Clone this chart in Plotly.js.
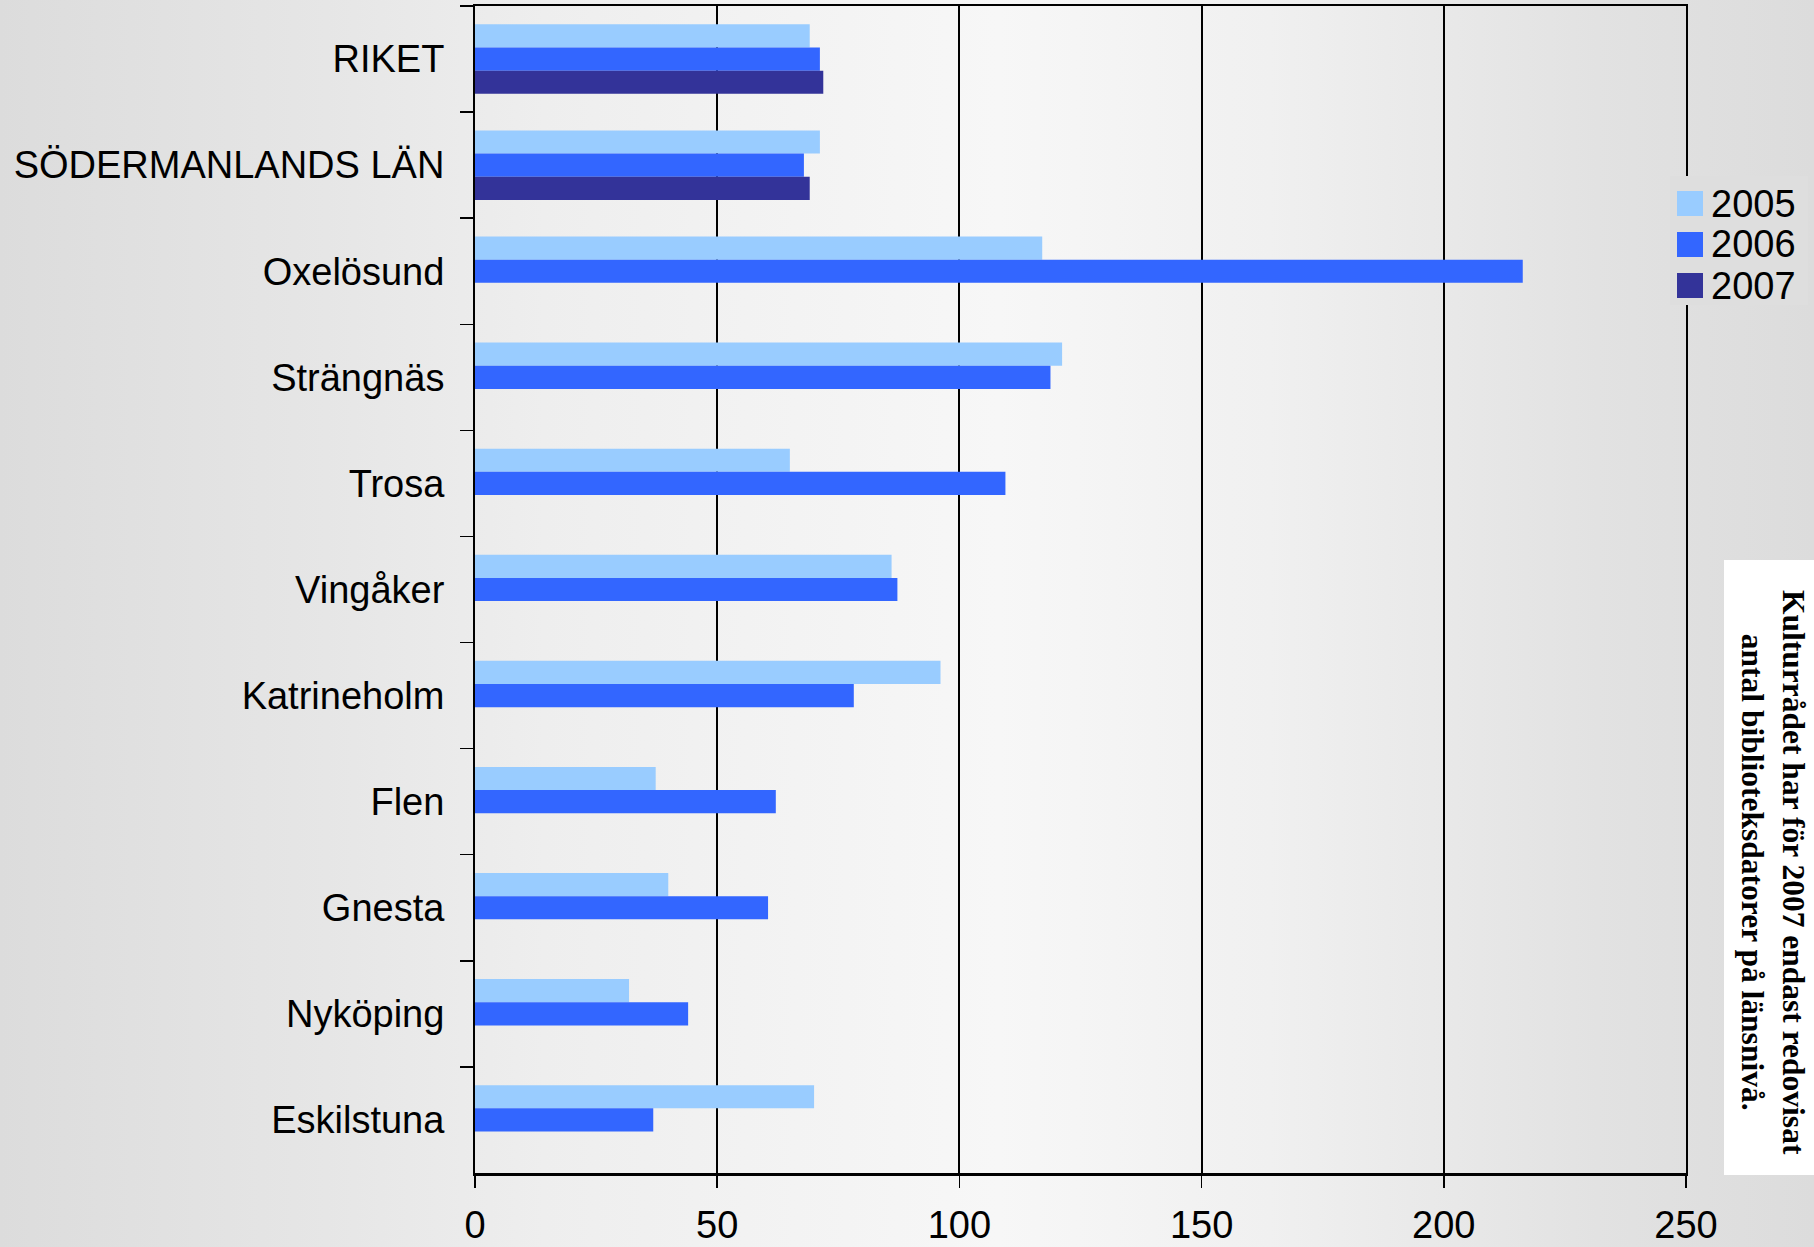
<!DOCTYPE html>
<html>
<head>
<meta charset="utf-8">
<script src="https://cdn.plot.ly/plotly-3.0.1.min.js"></script>
<style>
  html, body { margin: 0; padding: 0; }
  body {
    width: 1814px; height: 1247px; overflow: hidden;
    background: linear-gradient(to right, #dcdcdc 0%, #e6e6e6 18%, #eeeeee 30%, #f7f7f7 55%, #f0f0f0 70%, #e2e2e2 88%, #dcdcdc 100%);
  }
  #chart { width: 1814px; height: 1247px; }
</style>
</head>
<body>
<div id="chart"></div>
<script>
// ---- Data ----
const categories = ["RIKET", "SÖDERMANLANDS LÄN", "Oxelösund", "Strängnäs", "Trosa",
  "Vingåker", "Katrineholm", "Flen", "Gnesta", "Nyköping", "Eskilstuna"];
const seriesNames = ["2005", "2006", "2007"];
const values2005 = [69.1, 71.2, 117.1, 121.2, 65.0, 86.0, 96.1, 37.3, 39.9, 31.8, 70.0];
const values2006 = [71.2, 67.9, 216.3, 118.8, 109.5, 87.2, 78.2, 62.1, 60.5, 44.0, 36.8];
const values2007 = [71.9, 69.1, null, null, null, null, null, null, null, null, null];
const xTickValues = [0, 50, 100, 150, 200, 250];
const noteText = "Kulturrådet har för 2007 endast redovisat<br>antal biblioteksdatorer på länsnivå.";

// ---- Styles ----
const colors = ["#99CCFF", "#3366FF", "#333399"];
const seriesValues = [values2005, values2006, values2007];
const sansFont = "Liberation Sans, Arial, sans-serif";

const traces = seriesNames.map((name, i) => ({
  type: "bar",
  orientation: "h",
  name: name,
  y: categories,
  x: seriesValues[i],
  marker: { color: colors[i], line: { width: 0 } },
  showlegend: false,
  hoverinfo: "x+y+name"
}));

// custom legend (large square swatches)
const legendShapes = [];
const legendAnns = [];
const legendTopPx = 203.5; // center of first item (from top of figure)
const legendStepPx = 41;
const plotTop = 6, plotBottom = 1173, plotLeft = 475, plotRight = 1686;
const pyToPaper = py => (plotBottom - py) / (plotBottom - plotTop);
const pxToPaper = px => (px - plotLeft) / (plotRight - plotLeft);

// background patch that interrupts the plot frame behind the legend
legendShapes.push({
  type: "rect", xref: "paper", yref: "paper", layer: "above",
  x0: pxToPaper(1670), x1: pxToPaper(1808),
  y0: pyToPaper(305), y1: pyToPaper(176),
  fillcolor: "#dedede", line: { width: 0 }
});
seriesNames.forEach((name, i) => {
  const yc = pyToPaper(legendTopPx + i * legendStepPx);
  legendShapes.push({
    type: "rect", xref: "paper", yref: "paper", layer: "above",
    xsizemode: "pixel", ysizemode: "pixel",
    xanchor: pxToPaper(1677), yanchor: yc,
    x0: 0, x1: 26, y0: -12.5, y1: 12.5,
    fillcolor: colors[i], line: { width: 0 }
  });
  legendAnns.push({
    xref: "paper", yref: "paper",
    x: pxToPaper(1709), y: yc,
    xanchor: "left", yanchor: "middle",
    text: name, showarrow: false,
    font: { family: sansFont, size: 38, color: "#000" }
  });
});

// white note box
legendShapes.push({
  type: "rect", xref: "paper", yref: "paper", layer: "above",
  x0: pxToPaper(1724), x1: pxToPaper(1820),
  y0: pyToPaper(1175), y1: pyToPaper(560),
  fillcolor: "#ffffff", line: { width: 0 }
});

const noteAnn = {
  xref: "paper", yref: "paper",
  x: pxToPaper(1773), y: pyToPaper(872),
  xanchor: "center", yanchor: "middle",
  text: noteText, showarrow: false, textangle: 90, align: "center",
  font: { family: "Liberation Serif, Times New Roman, serif", size: 31.5, color: "#000", weight: "bold" }
};

const layout = {
  width: 1814, height: 1247,
  margin: { l: plotLeft, r: 1814 - plotRight, t: plotTop, b: 1247 - plotBottom, pad: 0 },
  paper_bgcolor: "rgba(0,0,0,0)",
  plot_bgcolor: "rgba(0,0,0,0)",
  barmode: "group",
  bargap: 0.345,
  bargroupgap: 0,
  showlegend: false,
  font: { family: sansFont, color: "#000" },
  xaxis: {
    range: [0, 250],
    tickvals: xTickValues,
    ticktext: xTickValues.map(String),
    showgrid: true, gridcolor: "#000", gridwidth: 2,
    zeroline: false,
    showline: true, mirror: true, linecolor: "#000", linewidth: 2.5,
    ticks: "outside", ticklen: 12, tickwidth: 1.5, tickcolor: "#000",
    ticklabelstandoff: 5,
    tickfont: { family: sansFont, size: 38, color: "#000" },
    fixedrange: true
  },
  yaxis: {
    type: "category",
    autorange: "reversed",
    tickson: "boundaries",
    showgrid: false, zeroline: false,
    showline: true, mirror: true, linecolor: "#000", linewidth: 2,
    ticks: "outside", ticklen: 13, tickwidth: 1.5, tickcolor: "#000",
    ticklabelstandoff: 21,
    tickfont: { family: sansFont, size: 38, color: "#000" },
    fixedrange: true
  },
  shapes: legendShapes,
  annotations: legendAnns.concat([noteAnn])
};

Plotly.newPlot("chart", traces, layout, { displayModeBar: false, staticPlot: true });
</script>
</body>
</html>
